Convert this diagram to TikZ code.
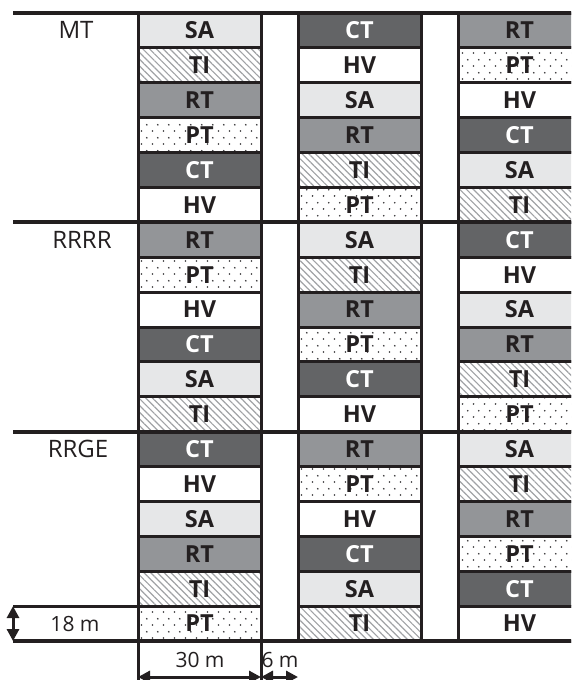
\documentclass[tikz,border=0pt]{standalone}
\usepackage{fontspec}
\setmainfont{Open Sans}
\usetikzlibrary{patterns.meta,arrows.meta}

\definecolor{ink}{HTML}{231F20}
\definecolor{saFill}{HTML}{E6E7E8}
\definecolor{rtFill}{HTML}{939598}
\definecolor{ctFill}{HTML}{636466}
\definecolor{hatchGray}{HTML}{A0A2A5}
\definecolor{dotGray}{HTML}{333234}

% staggered dot tile for the PT plots
\tikzdeclarepattern{
  name=speckle,
  type=colored,
  bottom left={(0pt,0pt)},
  top right={(10.7pt,13pt)},
  tile size={(10.7pt,13pt)},
  code={
    \fill[dotGray] (2.6pt,3.2pt) circle (0.95pt);
    \fill[dotGray] (7.95pt,9.7pt) circle (0.95pt);
  }
}

\tikzset{
  cell/.style={minimum width=123pt, minimum height=34.889pt, inner sep=0pt,
    outer sep=0pt, text=ink, font=\fontsize{23.5}{23.5}\selectfont\bfseries},
  kind SA/.style={fill=saFill},
  kind TI/.style={pattern={Lines[angle=-45,distance=4.8pt,line width=1.2pt]},
    pattern color=hatchGray},
  kind RT/.style={fill=rtFill},
  kind PT/.style={pattern=speckle},
  kind CT/.style={fill=ctFill, text=white},
  kind HV/.style={fill=white},
  cellrule/.style={draw=ink, line width=3pt},
  blockrule/.style={draw=ink, line width=4pt},
  grouplabel/.style={text=ink, inner sep=0pt, font=\fontsize{24}{24}\selectfont},
  dimlabel/.style={text=ink, inner sep=0pt, font=\fontsize{21}{21}\selectfont},
  dimarrow/.style={draw=ink, line width=3pt,
    {Triangle[width=12pt,length=12pt]}-{Triangle[width=12pt,length=12pt]}},
}

% one column of six plots: block, column, plot kinds from top to bottom
\newcommand\plotcolumn[3]{%
  \foreach \t [count=\r from 0] in {#3} {%
    \pgfmathsetmacro\yy{13+(6*#1+\r+0.5)*34.889}%
    \node[cell, kind \t] (c#1#2\r) at ({199.5+160*#2},\yy) {\t};
  }%
}

\begin{document}
\begin{tikzpicture}[x=1pt, y=-1pt]
  \useasboundingbox (0,0) rectangle (571,680);
  \clip (0,0) rectangle (571,680);

  % MT block
  \plotcolumn{0}{0}{SA,TI,RT,PT,CT,HV}
  \plotcolumn{0}{1}{CT,HV,SA,RT,TI,PT}
  \plotcolumn{0}{2}{RT,PT,HV,CT,SA,TI}
  % RRRR block
  \plotcolumn{1}{0}{RT,PT,HV,CT,SA,TI}
  \plotcolumn{1}{1}{SA,TI,RT,PT,CT,HV}
  \plotcolumn{1}{2}{CT,HV,SA,RT,TI,PT}
  % RRGE block
  \plotcolumn{2}{0}{CT,HV,SA,RT,TI,PT}
  \plotcolumn{2}{1}{RT,PT,HV,CT,SA,TI}
  \plotcolumn{2}{2}{SA,TI,RT,PT,CT,HV}

  % plot outlines
  \foreach \b in {0,1,2}
    \foreach \c in {0,1,2}
      \foreach \r in {0,...,5}
        \draw[cellrule] (c\b\c\r.north west) rectangle (c\b\c\r.south east);

  % block separators
  \foreach \y in {13,222.333,431.667,641}
    \draw[blockrule] (13,\y) -- (585,\y);

  % block names
  \node[grouplabel] (g-mt)   at (76,30.4)  {MT};
  \node[grouplabel] (g-rrrr) at (82,239.8) {RRRR};
  \node[grouplabel] (g-rrge) at (78,449.1) {RRGE};

  % plot length: 18 m
  \coordinate (h-top) at (13,606.1);
  \coordinate (h-bot) at (13,641);
  \draw[cellrule] (h-top) -- (c205.south west |- h-top);
  \draw[dimarrow] (h-top) -- (h-bot);
  \node[dimlabel] (l-18) at (75,623.5) {18 m};

  % plot width: 30 m, alley: 6 m
  \coordinate (w-a) at (138,677);
  \coordinate (w-b) at (261,677);
  \coordinate (w-c) at (298,677);
  \draw[cellrule] (c205.south west) -- (138,680);
  \draw[cellrule] (c205.south east) -- (261,680);
  \draw[dimarrow] (w-a) -- (w-b);
  \draw[dimarrow] (w-b) -- (w-c);
  \node[dimlabel] (l-30) at (200,660) {30 m};
  \node[dimlabel] (l-6)  at (280,660) {6 m};
\end{tikzpicture}
\end{document}
